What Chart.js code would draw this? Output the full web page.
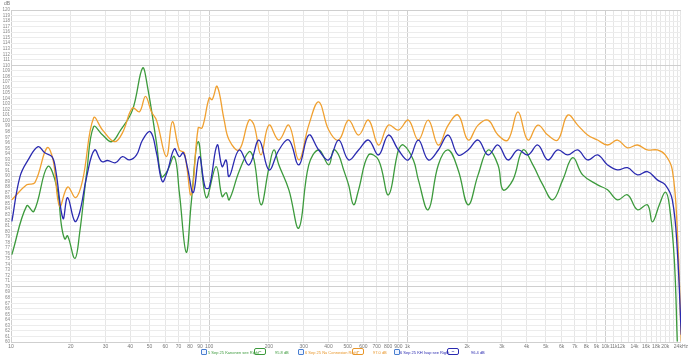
<!DOCTYPE html>
<html>
<head>
<meta charset="utf-8">
<script src="https://cdn.jsdelivr.net/npm/chart.js@4.4.0/dist/chart.umd.min.js"></script>
<style>
  html,body{margin:0;padding:0;background:#fff;}
  #wrap{position:relative;width:690px;height:357px;font-family:"Liberation Sans",Arial,sans-serif;}
  canvas{position:absolute;left:0;top:0;}
  .t{position:absolute;font-size:4px;line-height:5px;white-space:nowrap;}
  .cb{position:absolute;width:4px;height:4px;border:1px solid #4a7fd0;border-radius:1px;background:#eef4ff;}
  .bx{position:absolute;width:10px;height:5px;border:1px solid;border-radius:2px;font-size:5px;line-height:5px;text-align:center;}
</style>
</head>
<body>
<div id="wrap">
<canvas id="c" width="690" height="357"></canvas>
<span class="t" style="left:4px;top:1px;color:#777;font-size:5px;">dB</span>

<span class="cb" style="left:201px;top:349px;"></span>
<span class="t" style="left:208px;top:350px;color:#3c9a3c;">5 Sep 25 Kanonen see Right</span>
<span class="bx" style="left:254px;top:348px;border-color:#3c9a3c;color:#3c9a3c;">~</span>
<span class="t" style="left:275px;top:350px;color:#3c9a3c;">95.8 dB</span>

<span class="cb" style="left:298px;top:349px;"></span>
<span class="t" style="left:305px;top:350px;color:#e8962a;">6 Sep 25 Nu Connexion Right</span>
<span class="bx" style="left:352px;top:348px;border-color:#e8962a;color:#e8962a;">~</span>
<span class="t" style="left:373px;top:350px;color:#e8962a;">97.0 dB</span>

<span class="cb" style="left:394px;top:349px;"></span>
<span class="t" style="left:400px;top:350px;color:#2a2ab0;">6 Sep 25 KH Isup see Right</span>
<span class="bx" style="left:447px;top:348px;border-color:#2a2ab0;color:#2a2ab0;">~</span>
<span class="t" style="left:471px;top:350px;color:#2a2ab0;">96.4 dB</span>
</div>
<script>
// ---- data (frequency in Hz, SPL in dB) ----
const greenFreq = [10.1,12.0,13.05,15.3,17.0,18.0,18.7,19.3,21.0,22.2,24.1,26.1,29.0,32.2,35.3,41.0,46.1,48.8,54.2,57.4,60.8,66.7,70.7,76.6,81.2,88.0,96.6,108.4,116.2,121.7,126.1,141.5,158.9,168.4,182.6,200.3,212.2,224.8,252.4,283.4,318.0,357.1,400.9,424.8,450.1,476.9,505.2,535.2,567.3,636.8,715.0,802.8,901.2,954.8,1072,1136,1275,1432,1607,1804,2026,2274,2553,2866,3037,3410,3828,4298,4824,5416,6080,6828,7663,9117,10233,11489,12902,14481,16259,17228,18681,20021,20972,22224,23005];
const greenSpl  = [75.8,84.6,83.6,91.7,88.1,80.9,78.6,79.2,75.1,79.7,90.6,98.9,97.4,96.2,98.0,101.9,109.5,106.2,96.0,89.9,90.6,93.5,87.0,76.2,85.2,96.2,86.1,91.7,86.3,87.0,85.7,90.8,94.4,92.9,84.8,91.5,94.7,92.0,87.5,80.6,92.0,94.7,92.0,94.7,93.8,91.1,88.4,84.8,87.5,93.8,92.9,86.6,94.7,95.6,92.9,89.3,83.9,92.0,94.7,91.1,84.8,90.2,94.7,92.0,87.5,89.3,94.7,92.0,88.4,85.7,89.3,93.3,90.2,88.4,87.5,85.7,86.6,83.9,84.8,81.7,84.8,87.1,84.8,74.9,60.1];

const orangeFreq = [10.1,12.0,13.2,15.2,16.3,17.6,19.3,21.2,23.0,26.1,29.0,33.3,36.5,41.0,44.5,47.7,51.1,54.2,60.8,65.2,70.7,74.9,81.2,88.0,92.2,100,103.5,109.7,119.0,126.1,141.5,158.9,168.4,182.6,200.3,224.8,252.4,283.4,318.0,357.1,400.9,450.1,505.2,567.3,636.8,715.0,802.8,901.2,1011.6,1136,1275,1432,1607,1804,2026,2274,2553,2866,3217,3613,4055,4553,5111,5739,6442,7233,8119,9117,10233,11489,12902,14481,16259,18252,20021,21718,23005,24096];
const orangeSpl  = [85.7,88.4,88.8,95.1,92.9,84.5,88.0,86.1,89.3,100.5,98.3,96.2,97.8,102.3,101.6,104.4,101.6,100.1,93.5,99.8,94.7,94.2,86.6,98.7,98.7,104.1,103.8,106.2,100.1,96.5,94.7,100.1,99.2,93.8,99.2,96.5,99.2,92.9,99.2,103.4,98.3,96.5,100.1,97.4,100.1,95.6,99.2,98.3,100.1,96.5,100.1,95.6,99.2,101.0,96.5,99.2,100.1,97.4,96.5,101.6,96.5,99.2,97.4,96.5,101.0,99.2,97.4,96.5,95.6,96.5,95.1,95.6,94.7,94.7,93.8,91.1,80.3,60.1];

const blueFreq = [10.1,11.1,12.2,13.7,14.8,16.1,16.8,18.3,19.3,21.0,22.2,24.1,26.4,28.7,30.7,33.7,36.5,39.6,43.0,46.1,50.5,54.2,58.0,61.5,66.7,70.7,74.0,77.5,83.1,89.1,95.5,100,109.7,116.2,121.7,126.1,141.5,158.9,178.4,200.3,224.8,252.4,283.4,318.0,357.1,400.9,450.1,505.2,567.3,636.8,715.0,802.8,901.2,1011.6,1136,1275,1432,1607,1804,2026,2274,2553,2866,3217,3613,4055,4553,5111,5739,6442,7233,8119,9117,10233,11489,12902,14481,16259,18252,20021,21718,23005,24096];
const blueSpl  = [81.8,89.9,92.9,95.3,94.2,93.5,91.1,82.3,86.1,81.8,83.4,89.9,94.7,92.6,92.8,92.4,93.5,92.9,93.8,96.5,98.0,94.2,89.0,90.8,94.9,93.5,94.2,91.7,87.0,93.5,87.9,87.9,95.6,91.7,92.9,89.9,94.7,92.0,96.5,91.1,94.7,96.5,92.0,97.4,94.7,92.9,96.5,92.9,94.7,96.5,93.8,97.4,94.7,92.9,96.5,92.9,94.7,97.4,93.8,94.7,96.5,93.8,95.6,92.9,94.7,93.8,95.6,92.9,94.7,93.8,94.7,92.9,93.8,92.0,91.1,91.5,90.2,90.8,89.3,88.4,85.7,76.7,61.3];

const gridFreqs = [10,20,30,40,50,60,70,80,90,100,200,300,400,500,600,700,800,900,1000,2000,3000,4000,5000,6000,7000,8000,9000,10000,11000,12000,13000,14000,15000,16000,17000,18000,19000,20000,21000,22000,23000,24000];
const xLabelFreqs = [10,20,30,40,50,60,70,80,90,100,200,300,400,500,600,700,800,900,1000,2000,3000,4000,5000,6000,7000,8000,9000,10000,11000,12000,14000,16000,18000,20000,24000];
const xLabelText  = ['10','20','30','40','50','60','70','80','90','100','200','300','400','500','600','700','800','900','1k','2k','3k','4k','5k','6k','7k','8k','9k','10k','11k','12k','14k','16k','18k','20k','24kHz'];
const decades = [10,100,1000,10000];

const pts = (f, s) => f.map((v, i) => ({x: v, y: s[i]}));

new Chart(document.getElementById('c'), {
  type: 'line',
  data: {
    datasets: [
      {label:'6 Sep 25 KH Isup see Right', data: pts(blueFreq, blueSpl), borderColor:'#2a2ab0', borderWidth:1.3, pointRadius:0, tension:0.4, order:1},
      {label:'6 Sep 25 Nu Connexion Right', data: pts(orangeFreq, orangeSpl), borderColor:'#f0a030', borderWidth:1.3, pointRadius:0, tension:0.4, order:2},
      {label:'5 Sep 25 Kanonen see Right', data: pts(greenFreq, greenSpl), borderColor:'#3c9a3c', borderWidth:1.3, pointRadius:0, tension:0.4, order:3}
    ]
  },
  options: {
    responsive:false, animation:false,
    layout:{padding:{left:0, top:10, right:6, bottom:0}},
    plugins:{legend:{display:false}, tooltip:{enabled:false}},
    scales:{
      x:{
        type:'logarithmic', min:10, max:24000,
        afterBuildTicks:(s)=>{ s.ticks = gridFreqs.map(v=>({value:v})); },
        afterFit:(s)=>{ s.height = 15; },
        ticks:{autoSkip:false, maxRotation:0, padding:2, color:'#777', font:{size:5, family:'Liberation Sans'},
          callback:(v)=>{ const i = xLabelFreqs.indexOf(v); return i>=0 ? xLabelText[i] : ''; }},
        grid:{drawTicks:false, color:(c)=> (c.tick && decades.includes(c.tick.value)) ? '#cfcfcf' : '#e6e6e6', lineWidth:1},
        border:{display:false}
      },
      y:{
        min:60, max:120,
        afterFit:(s)=>{ s.width = 11; },
        ticks:{stepSize:1, autoSkip:false, padding:1, color:'#888', font:{size:4.5, family:'Liberation Sans'}},
        grid:{drawTicks:false, color:(c)=> (c.tick && c.tick.value % 10 === 0) ? '#cfcfcf' : '#ececec', lineWidth:1},
        border:{display:false}
      }
    }
  }
});
</script>
</body>
</html>
